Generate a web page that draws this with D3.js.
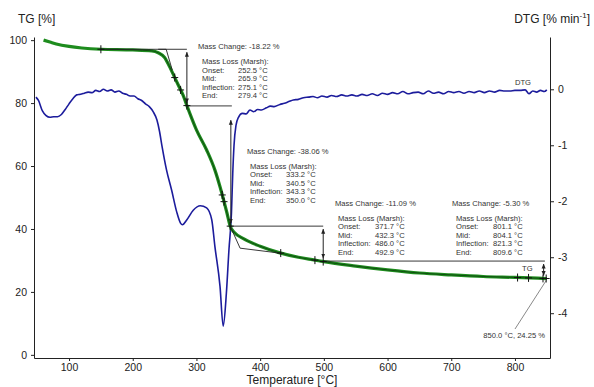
<!DOCTYPE html>
<html>
<head>
<meta charset="utf-8">
<script src="https://cdn.jsdelivr.net/npm/d3@7"></script>
<style>
  body { margin: 0; background: #fff; }
  svg { font-family: "Liberation Sans", Arial, sans-serif; }
</style>
</head>
<body>
<svg id="chart" width="594" height="387"></svg>
<script>
// TG curve (temperature °C, mass %)
const tgTemp = [60, 70, 80, 100, 120, 150, 200, 230, 240, 250, 258, 265, 272, 279, 285, 300, 316, 329, 337, 342, 348, 353, 360, 373, 400, 431, 460, 486, 500, 550, 600, 650, 700, 750, 800, 850];
const tgMass = [100.0, 99.4, 98.8, 98.0, 97.5, 97.1, 96.9, 96.6, 96.0, 94.5, 91.5, 88.5, 85.5, 82.5, 79.2, 71.5, 65.1, 58.7, 53.4, 49.7, 45.0, 40.9, 38.8, 37.0, 34.5, 32.4, 31.0, 30.1, 29.6, 28.2, 27.0, 26.0, 25.4, 24.9, 24.6, 24.25];

// DTG curve (temperature °C, % min-1)
const dtgTemp = [48, 52, 58, 64, 70, 76, 82, 88, 94, 100, 106, 112, 118, 124, 130, 136, 142, 148, 154, 160, 166, 172, 178, 184, 190, 196, 202, 208, 214, 220, 226, 232, 238, 242, 246, 253, 261, 269, 275, 278, 285, 295, 306, 316, 324, 329, 337, 342, 347, 351, 355, 357, 359, 362, 366, 372, 378, 384, 390, 396, 402, 410, 416, 422, 431, 438, 445, 452, 460, 468, 476, 483, 490, 497, 505, 512, 520, 528, 536, 544, 552, 560, 568, 576, 584, 592, 600, 608, 616, 624, 632, 640, 648, 656, 664, 672, 680, 688, 696, 704, 712, 720, 728, 736, 744, 752, 760, 768, 776, 784, 792, 800, 808, 816, 822, 828, 834, 840, 846, 850];
const dtgRate = [-0.14, -0.2, -0.38, -0.47, -0.5, -0.49, -0.49, -0.45, -0.36, -0.26, -0.17, -0.1, -0.09, -0.07, -0.05, -0.06, -0.02, -0.04, 0.0, -0.03, -0.01, -0.05, -0.03, -0.07, -0.09, -0.12, -0.12, -0.17, -0.2, -0.26, -0.31, -0.4, -0.55, -0.75, -1.02, -1.44, -1.8, -2.19, -2.39, -2.42, -2.33, -2.16, -2.08, -2.12, -2.33, -2.81, -3.52, -4.23, -3.64, -2.87, -2.2, -1.5, -1.0, -0.65, -0.5, -0.43, -0.44, -0.37, -0.4, -0.36, -0.37, -0.33, -0.3, -0.31, -0.27, -0.25, -0.22, -0.19, -0.18, -0.15, -0.14, -0.13, -0.15, -0.12, -0.14, -0.11, -0.13, -0.1, -0.12, -0.1, -0.12, -0.09, -0.11, -0.08, -0.11, -0.07, -0.09, -0.06, -0.08, -0.04, -0.08, -0.06, -0.05, -0.08, -0.03, -0.07, -0.05, -0.08, -0.04, -0.06, -0.04, -0.07, -0.04, -0.06, -0.03, -0.06, -0.03, -0.05, -0.02, -0.03, -0.03, -0.02, -0.02, -0.01, -0.08, -0.03, -0.05, -0.02, -0.04, -0.01];

// evaluation steps
const stepChange = ["-18.22", "-38.06", "-11.09", "-5.30"];
const stepOnset = ["252.5", "333.2", "371.7", "801.1"];
const stepMid = ["265.9", "340.5", "432.3", "804.1"];
const stepInfl = ["275.1", "343.3", "486.0", "821.3"];
const stepEnd = ["279.4", "350.0", "492.9", "809.6"];
const levelTemp = [150, 285, 354, 499, 847];
const levelMass = [97.1, 79.1, 40.9, 29.8, 24.25];
const markTemps = [150, 265.9, 275.1, 285, 340.5, 343.3, 353, 432.3, 486.0, 499, 804.1, 821.3, 844, 849];

const xTicks = [100, 200, 300, 400, 500, 600, 700, 800];
const tgTicks = [0, 20, 40, 60, 80, 100];
const dtgTicks = [0, -1, -2, -3, -4];

const svg = d3.select("#chart");
const x = d3.scaleLinear().domain([45, 855]).range([34, 550]);
const yTG = d3.scaleLinear().domain([-1, 101]).range([358, 37]);
const yDTG = d3.scaleLinear().domain([-4.8, 0.934]).range([358, 37]);
const ink = "#222";

// axes
const gx = svg.append("g").attr("transform", "translate(0,358)");
gx.call(d3.axisBottom(x).tickValues(d3.range(60, 850, 20)).tickSize(2).tickFormat("").tickSizeOuter(0));
gx.call(d3.axisBottom(x).tickValues(xTicks).tickSize(3).tickSizeOuter(0).tickPadding(3));
const gl = svg.append("g").attr("transform", "translate(34,0)");
gl.call(d3.axisLeft(yTG).tickValues([10, 30, 50, 70, 90]).tickSize(2).tickFormat("").tickSizeOuter(0));
gl.call(d3.axisLeft(yTG).tickValues(tgTicks).tickSize(3).tickSizeOuter(0).tickPadding(4));
const gr = svg.append("g").attr("transform", "translate(550,0)");
gr.call(d3.axisRight(yDTG).tickValues([0.5, -0.5, -1.5, -2.5, -3.5, -4.5]).tickSize(3).tickFormat("").tickSizeOuter(0));
gr.call(d3.axisRight(yDTG).tickValues(dtgTicks).tickSize(4).tickSizeOuter(0).tickPadding(4).tickFormat(d => d === 0 ? "0" : "-" + Math.abs(d)));
svg.selectAll(".domain, .tick line").attr("stroke", ink);
svg.selectAll(".tick text").attr("fill", ink).style("font-size", "10.5px").style("font-family", "Liberation Sans, Arial, sans-serif");

svg.append("text").attr("x", 18).attr("y", 23).attr("fill", ink).style("font-size", "12px").text("TG [%]");
const dl = svg.append("text").attr("x", 590).attr("y", 23).attr("text-anchor", "end").attr("fill", ink).style("font-size", "12px");
dl.append("tspan").text("DTG [% min");
dl.append("tspan").attr("dy", -5).style("font-size", "8px").text("-1");
dl.append("tspan").attr("dy", 5).text("]");
svg.append("text").attr("x", 292).attr("y", 384).attr("text-anchor", "middle").attr("fill", ink).style("font-size", "12px").text("Temperature [°C]");

// DTG line
const dtgPts = dtgTemp.map((t, i) => [t, dtgRate[i]]);
svg.append("path").datum(dtgPts)
  .attr("fill", "none").attr("stroke", "#1c1c9c").attr("stroke-width", 1.6)
  .attr("d", d3.line().x(d => x(d[0])).y(d => yDTG(d[1])).curve(d3.curveMonotoneX));

// TG line
const tgPts = tgTemp.map((t, i) => [t, tgMass[i]]);
const tgLine = d3.line().x(d => x(d[0])).y(d => yTG(d[1])).curve(d3.curveMonotoneX);
svg.append("path").datum(tgPts)
  .attr("fill", "none").attr("stroke", "#1e8c1e").attr("stroke-width", 3.2)
  .attr("d", tgLine);
svg.append("path").datum(tgPts.filter(d => d[0] >= 150))
  .attr("fill", "none").attr("stroke", "#0d3d0d").attr("stroke-width", 0.8)
  .attr("d", tgLine);

const tgAt = t => {
  const i = d3.bisectLeft(tgTemp, t);
  if (i <= 0) return tgMass[0];
  if (i >= tgTemp.length) return tgMass[tgMass.length - 1];
  const f = (t - tgTemp[i - 1]) / (tgTemp[i] - tgTemp[i - 1]);
  return tgMass[i - 1] + f * (tgMass[i] - tgMass[i - 1]);
};

// evaluation construction lines
const g = svg.append("g").attr("stroke", ink).attr("stroke-width", 0.9).attr("fill", "none");
// step levels
g.append("line").attr("x1", x(levelTemp[0])).attr("x2", x(levelTemp[1])).attr("y1", yTG(levelMass[0])).attr("y2", yTG(levelMass[0]));
g.append("line").attr("x1", x(levelTemp[1])).attr("x2", x(levelTemp[2]) + 1).attr("y1", yTG(levelMass[1])).attr("y2", yTG(levelMass[1]));
g.append("line").attr("x1", x(levelTemp[2])).attr("x2", x(levelTemp[3])).attr("y1", yTG(levelMass[2])).attr("y2", yTG(levelMass[2]));
g.append("line").attr("x1", x(levelTemp[3])).attr("x2", x(levelTemp[4])).attr("y1", yTG(levelMass[3])).attr("y2", yTG(levelMass[3]));
// onset tangents
g.append("path").attr("d", d3.line()([[x(240), yTG(97.1)], [x(252.5), yTG(97.1)], [x(262), yTG(90.5)]]));
g.append("path").attr("d", d3.line()([[x(353), yTG(40.9)], [x(368.5), yTG(33.9)], [x(432), yTG(32.3)]]));

// double arrows
svg.append("defs").append("marker").attr("id", "ah").attr("viewBox", "0 0 10 10")
  .attr("refX", 9).attr("refY", 5).attr("markerWidth", 5).attr("markerHeight", 6)
  .attr("orient", "auto-start-reverse")
  .append("path").attr("d", "M0,1L10,5L0,9z").attr("fill", ink);
const arrows = [
  [levelTemp[1], levelMass[0], levelMass[1]],
  [levelTemp[2], 75.5, levelMass[2]],
  [levelTemp[3], levelMass[2], levelMass[3]],
  [845, levelMass[3], levelMass[4]]
];
arrows.forEach(a => {
  svg.append("line").attr("x1", x(a[0])).attr("x2", x(a[0]))
    .attr("y1", yTG(a[1]) + 3).attr("y2", yTG(a[2]) - 3)
    .attr("stroke", ink).attr("stroke-width", 1)
    .attr("marker-start", "url(#ah)").attr("marker-end", "url(#ah)");
});

// cross marks on TG
markTemps.forEach(t => {
  const cx = x(t), cy = yTG(tgAt(t));
  svg.append("path").attr("d", `M${cx - 3.5},${cy}H${cx + 3.5}M${cx},${cy - 4}V${cy + 4}`)
    .attr("stroke", "#111").attr("stroke-width", 1);
});

// annotation text
const small = "7.6px";
const txt = "#333";
const blocks = [
  {mx: 198, lx: 202, vx: 238, y0: 49},
  {mx: 247, lx: 250, vx: 286, y0: 153.5},
  {mx: 335, lx: 338, vx: 375, y0: 205.5},
  {mx: 452, lx: 456, vx: 493, y0: 205.5}
];
blocks.forEach((b, i) => {
  const t = svg.append("g").attr("fill", txt).style("font-size", small);
  t.append("text").attr("x", b.mx).attr("y", b.y0).text("Mass Change: " + stepChange[i] + " %");
  t.append("text").attr("x", b.lx).attr("y", b.y0 + 15).text("Mass Loss (Marsh):");
  const rows = [["Onset:", stepOnset[i]], ["Mid:", stepMid[i]], ["Inflection:", stepInfl[i]], ["End:", stepEnd[i]]];
  rows.forEach((r, j) => {
    const yy = b.y0 + 23.5 + j * 8.6;
    t.append("text").attr("x", b.lx).attr("y", yy).text(r[0]);
    t.append("text").attr("x", b.vx).attr("y", yy).text(r[1] + " °C");
  });
});

svg.append("text").attr("x", 522).attr("y", 271).attr("fill", txt).style("font-size", "7.6px").text("TG");
svg.append("text").attr("x", 515).attr("y", 85).attr("fill", txt).style("font-size", "7.6px").text("DTG");
svg.append("line").attr("x1", 515).attr("y1", 329).attr("x2", x(849)).attr("y2", yTG(24.25) + 2)
  .attr("stroke", "#555").attr("stroke-width", 0.7);
svg.append("text").attr("x", 545).attr("y", 338).attr("text-anchor", "end").attr("fill", txt)
  .style("font-size", "7.6px").text("850.0 °C, 24.25 %");
</script>
</body>
</html>
